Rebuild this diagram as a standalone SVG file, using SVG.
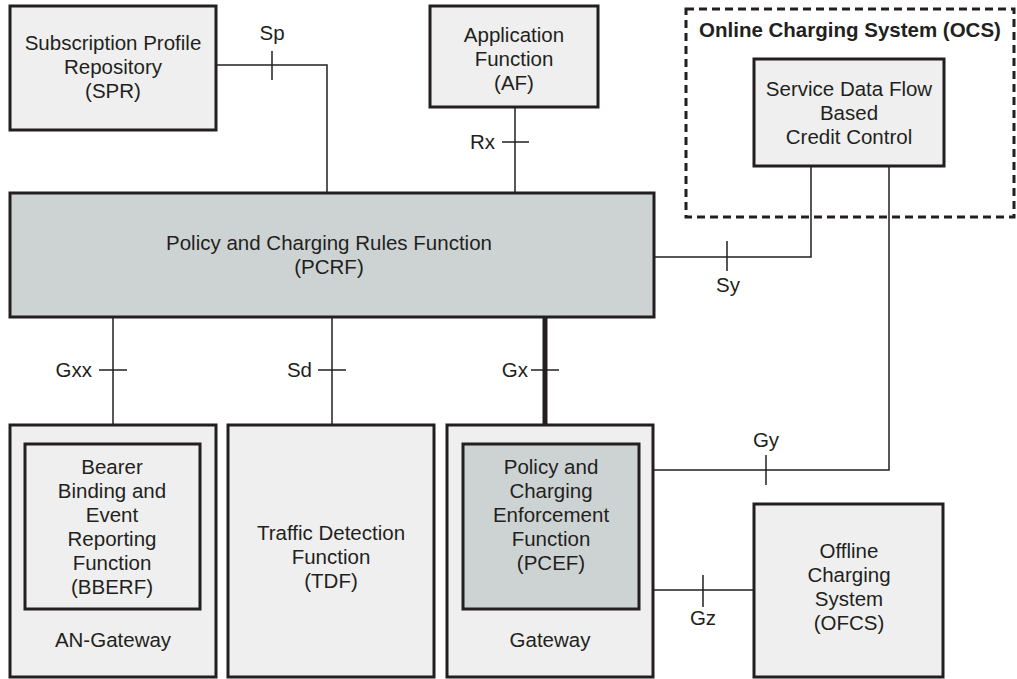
<svg xmlns="http://www.w3.org/2000/svg" width="1017" height="679" viewBox="0 0 1017 679">
<style>
.box{fill:#efefef;stroke:#231f20;stroke-width:3}
.dark{fill:#cdd3d3;stroke:#231f20;stroke-width:3}
.dash{fill:none;stroke:#231f20;stroke-width:3;stroke-dasharray:8 5}
.ln{fill:none;stroke:#231f20;stroke-width:1.5}
.thick{fill:none;stroke:#231f20;stroke-width:5}
text{font-family:"Liberation Sans",Arial,sans-serif;font-size:20.5px;fill:#231f20}
.c{text-anchor:middle}
.r{text-anchor:end}
.b{font-weight:bold}
</style>
<rect width="1017" height="679" fill="#ffffff"/>
<g id="connectors">
  <polyline class="ln" points="216,65 327,65 327,193"/>
  <line class="ln" x1="272" y1="51" x2="272" y2="80"/>
  <text class="c" x="272" y="40">Sp</text>
  <line class="ln" x1="515" y1="107" x2="515" y2="193"/>
  <line class="ln" x1="502" y1="142" x2="529" y2="142"/>
  <text class="r" x="495" y="149">Rx</text>
  <polyline class="ln" points="654,257 811,257 811,166"/>
  <line class="ln" x1="727" y1="241" x2="727" y2="271"/>
  <text class="c" x="728" y="292">Sy</text>
  <polyline class="ln" points="889,166 889,470 653,470"/>
  <line class="ln" x1="766" y1="455" x2="766" y2="485"/>
  <text class="c" x="766" y="447">Gy</text>
  <line class="ln" x1="653" y1="590" x2="754" y2="590"/>
  <line class="ln" x1="703" y1="575" x2="703" y2="607"/>
  <text class="c" x="703" y="625">Gz</text>
  <line class="ln" x1="113" y1="317" x2="113" y2="425"/>
  <line class="ln" x1="99" y1="370" x2="127" y2="370"/>
  <text class="r" x="92" y="377">Gxx</text>
  <line class="ln" x1="332" y1="317" x2="332" y2="425"/>
  <line class="ln" x1="318" y1="370" x2="346" y2="370"/>
  <text class="r" x="312" y="377">Sd</text>
  <line class="thick" x1="545" y1="317" x2="545" y2="425"/>
  <line class="ln" x1="531" y1="370" x2="559" y2="370"/>
  <text class="r" x="528" y="377">Gx</text>
</g>
<g id="spr">
  <rect class="box" x="10" y="6" width="206" height="124"/>
  <text class="c" x="113" y="50">Subscription Profile</text>
  <text class="c" x="113" y="74">Repository</text>
  <text class="c" x="113" y="98">(SPR)</text>
</g>
<g id="af">
  <rect class="box" x="430" y="6" width="168" height="101"/>
  <text class="c" x="514" y="42">Application</text>
  <text class="c" x="514" y="66">Function</text>
  <text class="c" x="514" y="90">(AF)</text>
</g>
<g id="ocs">
  <rect class="dash" x="686" y="9" width="328" height="208"/>
  <text class="c b" x="850" y="37">Online Charging System (OCS)</text>
</g>
<g id="sdf">
  <rect class="box" x="754" y="59" width="190" height="107"/>
  <text class="c" x="849" y="96">Service Data Flow</text>
  <text class="c" x="849" y="120">Based</text>
  <text class="c" x="849" y="144">Credit Control</text>
</g>
<g id="pcrf">
  <rect class="dark" x="10" y="193" width="644" height="124"/>
  <text class="c" x="329" y="250">Policy and Charging Rules Function</text>
  <text class="c" x="329" y="274">(PCRF)</text>
</g>
<g id="an-gateway">
  <rect class="box" x="10" y="425" width="206" height="252"/>
  <text class="c" x="113" y="647">AN-Gateway</text>
</g>
<g id="bberf">
  <rect class="box" x="25" y="444" width="175" height="165"/>
  <text class="c" x="112" y="474">Bearer</text>
  <text class="c" x="112" y="498">Binding and</text>
  <text class="c" x="112" y="522">Event</text>
  <text class="c" x="112" y="546">Reporting</text>
  <text class="c" x="112" y="570">Function</text>
  <text class="c" x="112" y="594">(BBERF)</text>
</g>
<g id="tdf">
  <rect class="box" x="228" y="425" width="206" height="252"/>
  <text class="c" x="331" y="540">Traffic Detection</text>
  <text class="c" x="331" y="564">Function</text>
  <text class="c" x="331" y="588">(TDF)</text>
</g>
<g id="gateway">
  <rect class="box" x="447" y="425" width="206" height="252"/>
  <text class="c" x="550" y="647">Gateway</text>
</g>
<g id="pcef">
  <rect class="dark" x="463" y="444" width="176" height="165"/>
  <text class="c" x="551" y="474">Policy and</text>
  <text class="c" x="551" y="498">Charging</text>
  <text class="c" x="551" y="522">Enforcement</text>
  <text class="c" x="551" y="546">Function</text>
  <text class="c" x="551" y="570">(PCEF)</text>
</g>
<g id="ofcs">
  <rect class="box" x="754" y="504" width="189" height="173"/>
  <text class="c" x="849" y="558">Offline</text>
  <text class="c" x="849" y="582">Charging</text>
  <text class="c" x="849" y="606">System</text>
  <text class="c" x="849" y="630">(OFCS)</text>
</g>
</svg>
